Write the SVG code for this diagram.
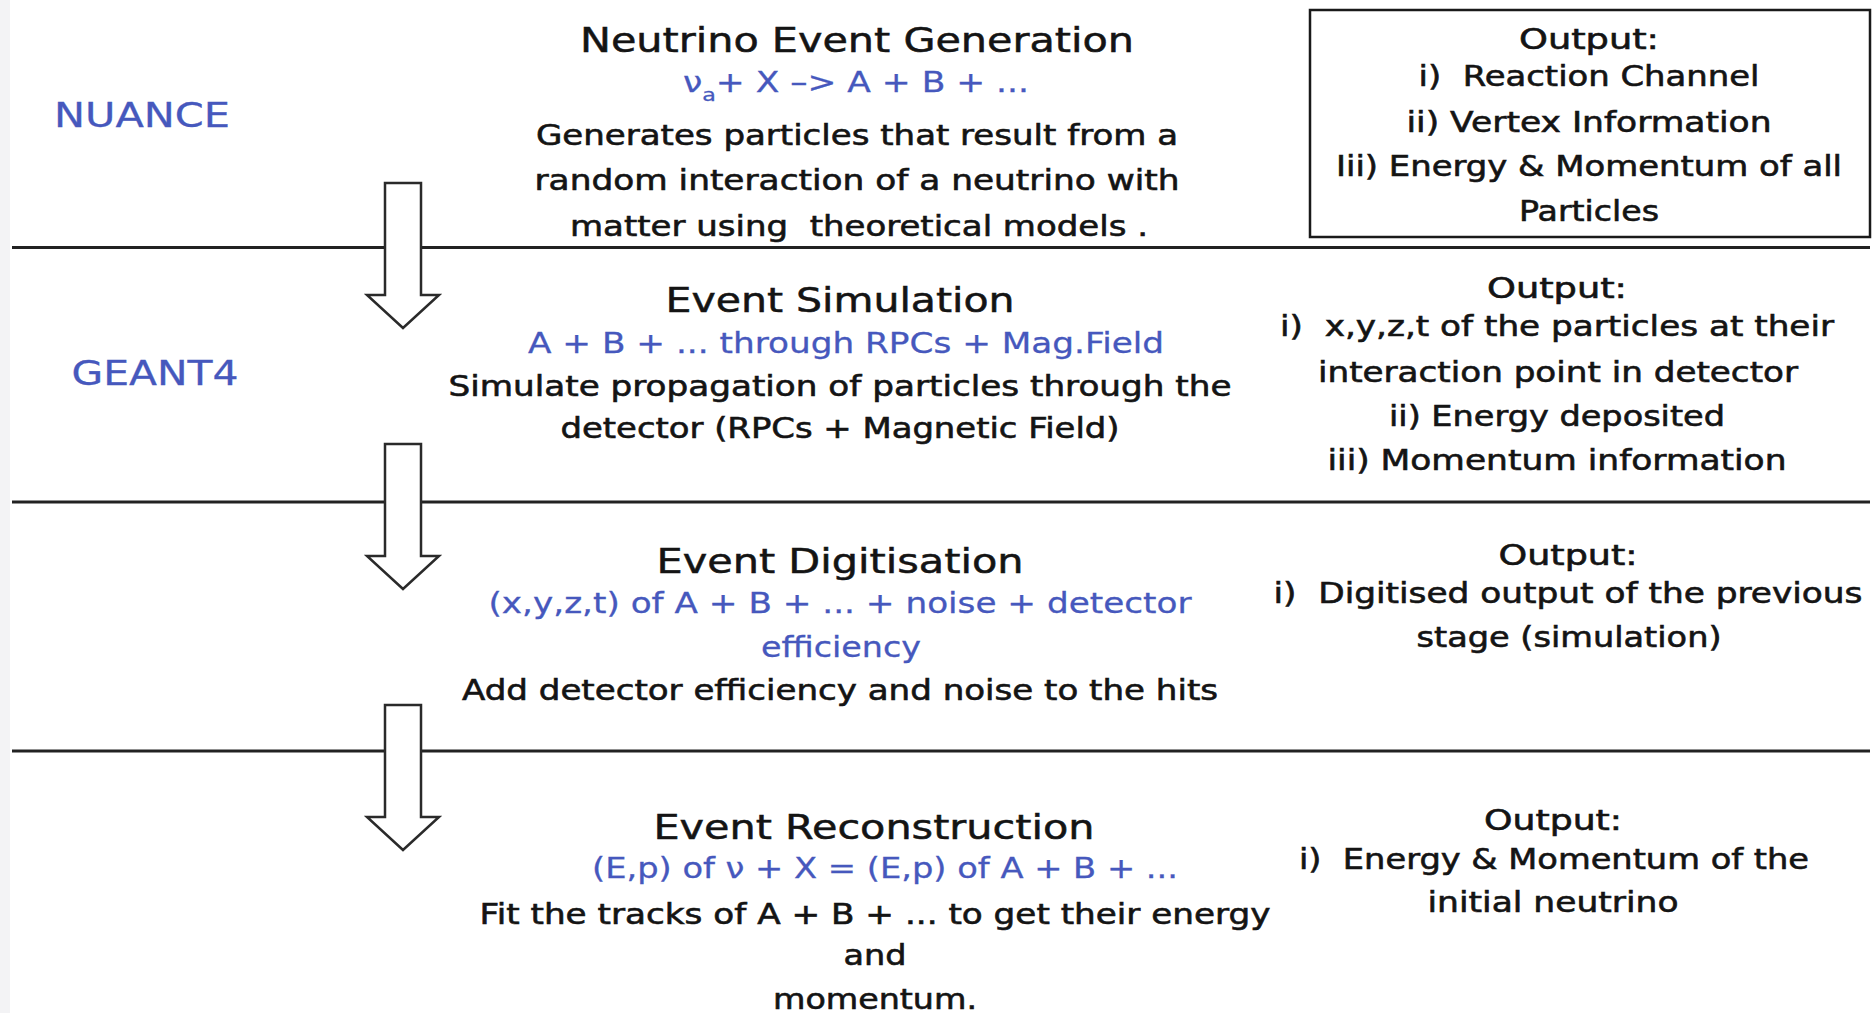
<svg xmlns="http://www.w3.org/2000/svg" width="1876" height="1013" viewBox="0 0 1876 1013">
<style>
text{font-family:"DejaVu Sans","Liberation Sans",sans-serif;fill:#141414;stroke:#141414;stroke-width:0.6;text-anchor:middle;white-space:pre}
.t{font-size:33px;stroke-width:0.5}
.b{font-size:28px}
.blue{fill:#4658bd;stroke:#4658bd;stroke-width:0.3}
.lab{font-size:34px;fill:#4658bd;stroke:#4658bd;stroke-width:0.3}
.sep{stroke:#222;stroke-width:3;fill:none}
.arrow{fill:#fff;stroke:#2a2a2a;stroke-width:2.5;stroke-linejoin:miter}
.box{fill:none;stroke:#1a1a1a;stroke-width:2.5}
</style>
<rect x="0" y="0" width="1876" height="1013" fill="#fff"/>
<rect x="0" y="0" width="10" height="1013" fill="#f3f3f5"/>
<g id="separators">
<line class="sep" x1="12" y1="247.5" x2="1870" y2="247.5"/>
<line class="sep" x1="12" y1="502" x2="1870" y2="502"/>
<line class="sep" x1="12" y1="751" x2="1870" y2="751"/>
</g>
<g id="NUANCE"><text class="lab" x="142" y="127" textLength="176" lengthAdjust="spacingAndGlyphs">NUANCE</text></g>
<g id="GEANT4"><text class="lab" x="155" y="385" textLength="167" lengthAdjust="spacingAndGlyphs">GEANT4</text></g>
<g id="generation">
<text class="t" x="857" y="52" textLength="554" lengthAdjust="spacingAndGlyphs">Neutrino Event Generation</text>
<text class="b blue" x="856" y="92" textLength="346" lengthAdjust="spacingAndGlyphs">ν<tspan font-size="18" dy="9">a</tspan><tspan dy="-9">+ X –&gt; A + B + ...</tspan></text>
<text class="b" x="857" y="145" textLength="642" lengthAdjust="spacingAndGlyphs">Generates particles that result from a</text>
<text class="b" x="857" y="190" textLength="645" lengthAdjust="spacingAndGlyphs">random interaction of a neutrino with</text>
<text class="b" x="859" y="236" textLength="578" lengthAdjust="spacingAndGlyphs">matter using  theoretical models .</text>
</g>
<g id="generation-output">
<rect class="box" x="1310" y="10" width="560" height="227"/>
<text class="b" x="1589" y="49" textLength="140" lengthAdjust="spacingAndGlyphs">Output:</text>
<text class="b" x="1589" y="86" textLength="341" lengthAdjust="spacingAndGlyphs">i)  Reaction Channel</text>
<text class="b" x="1589" y="132" textLength="365" lengthAdjust="spacingAndGlyphs">ii) Vertex Information</text>
<text class="b" x="1589" y="176" textLength="506" lengthAdjust="spacingAndGlyphs">Iii) Energy &amp; Momentum of all</text>
<text class="b" x="1589" y="221" textLength="140" lengthAdjust="spacingAndGlyphs">Particles</text>
</g>
<g id="simulation">
<text class="t" x="840" y="312" textLength="349" lengthAdjust="spacingAndGlyphs">Event Simulation</text>
<text class="b blue" x="846" y="353" textLength="636" lengthAdjust="spacingAndGlyphs">A + B + ... through RPCs + Mag.Field</text>
<text class="b" x="840" y="396" textLength="783" lengthAdjust="spacingAndGlyphs">Simulate propagation of particles through the</text>
<text class="b" x="840" y="438" textLength="559" lengthAdjust="spacingAndGlyphs">detector (RPCs + Magnetic Field)</text>
</g>
<g id="simulation-output">
<text class="b" x="1557" y="298" textLength="140" lengthAdjust="spacingAndGlyphs">Output:</text>
<text class="b" x="1557" y="336" textLength="554" lengthAdjust="spacingAndGlyphs">i)  x,y,z,t of the particles at their</text>
<text class="b" x="1558" y="382" textLength="480" lengthAdjust="spacingAndGlyphs">interaction point in detector</text>
<text class="b" x="1557" y="426" textLength="336" lengthAdjust="spacingAndGlyphs">ii) Energy deposited</text>
<text class="b" x="1557" y="470" textLength="459" lengthAdjust="spacingAndGlyphs">iii) Momentum information</text>
</g>
<g id="digitisation">
<text class="t" x="840" y="573" textLength="367" lengthAdjust="spacingAndGlyphs">Event Digitisation</text>
<text class="b blue" x="840" y="613" textLength="703" lengthAdjust="spacingAndGlyphs">(x,y,z,t) of A + B + ... + noise + detector</text>
<text class="b blue" x="841" y="657" textLength="160" lengthAdjust="spacingAndGlyphs">efficiency</text>
<text class="b" x="840" y="700" textLength="756" lengthAdjust="spacingAndGlyphs">Add detector efficiency and noise to the hits</text>
</g>
<g id="digitisation-output">
<text class="b" x="1568" y="565" textLength="139" lengthAdjust="spacingAndGlyphs">Output:</text>
<text class="b" x="1568" y="603" textLength="589" lengthAdjust="spacingAndGlyphs">i)  Digitised output of the previous</text>
<text class="b" x="1569" y="647" textLength="305" lengthAdjust="spacingAndGlyphs">stage (simulation)</text>
</g>
<g id="reconstruction">
<text class="t" x="874" y="839" textLength="441" lengthAdjust="spacingAndGlyphs">Event Reconstruction</text>
<text class="b blue" x="885" y="878" textLength="586" lengthAdjust="spacingAndGlyphs">(E,p) of ν + X = (E,p) of A + B + ...</text>
<text class="b" x="875" y="924" textLength="791" lengthAdjust="spacingAndGlyphs">Fit the tracks of A + B + ... to get their energy</text>
<text class="b" x="875" y="965" textLength="63" lengthAdjust="spacingAndGlyphs">and</text>
<text class="b" x="875" y="1009" textLength="204" lengthAdjust="spacingAndGlyphs">momentum.</text>
</g>
<g id="reconstruction-output">
<text class="b" x="1553" y="830" textLength="138" lengthAdjust="spacingAndGlyphs">Output:</text>
<text class="b" x="1554" y="869" textLength="510" lengthAdjust="spacingAndGlyphs">i)  Energy &amp; Momentum of the</text>
<text class="b" x="1553" y="912" textLength="251" lengthAdjust="spacingAndGlyphs">initial neutrino</text>
</g>
<g id="connectors">
<path class="arrow" d="M385,183 H421 V295 H439 L403,328 L367,295 H385 Z"/>
<path class="arrow" d="M385,444 H421 V556 H439 L403,589 L367,556 H385 Z"/>
<path class="arrow" d="M385,705 H421 V817 H439 L403,850 L367,817 H385 Z"/>
</g>
</svg>
